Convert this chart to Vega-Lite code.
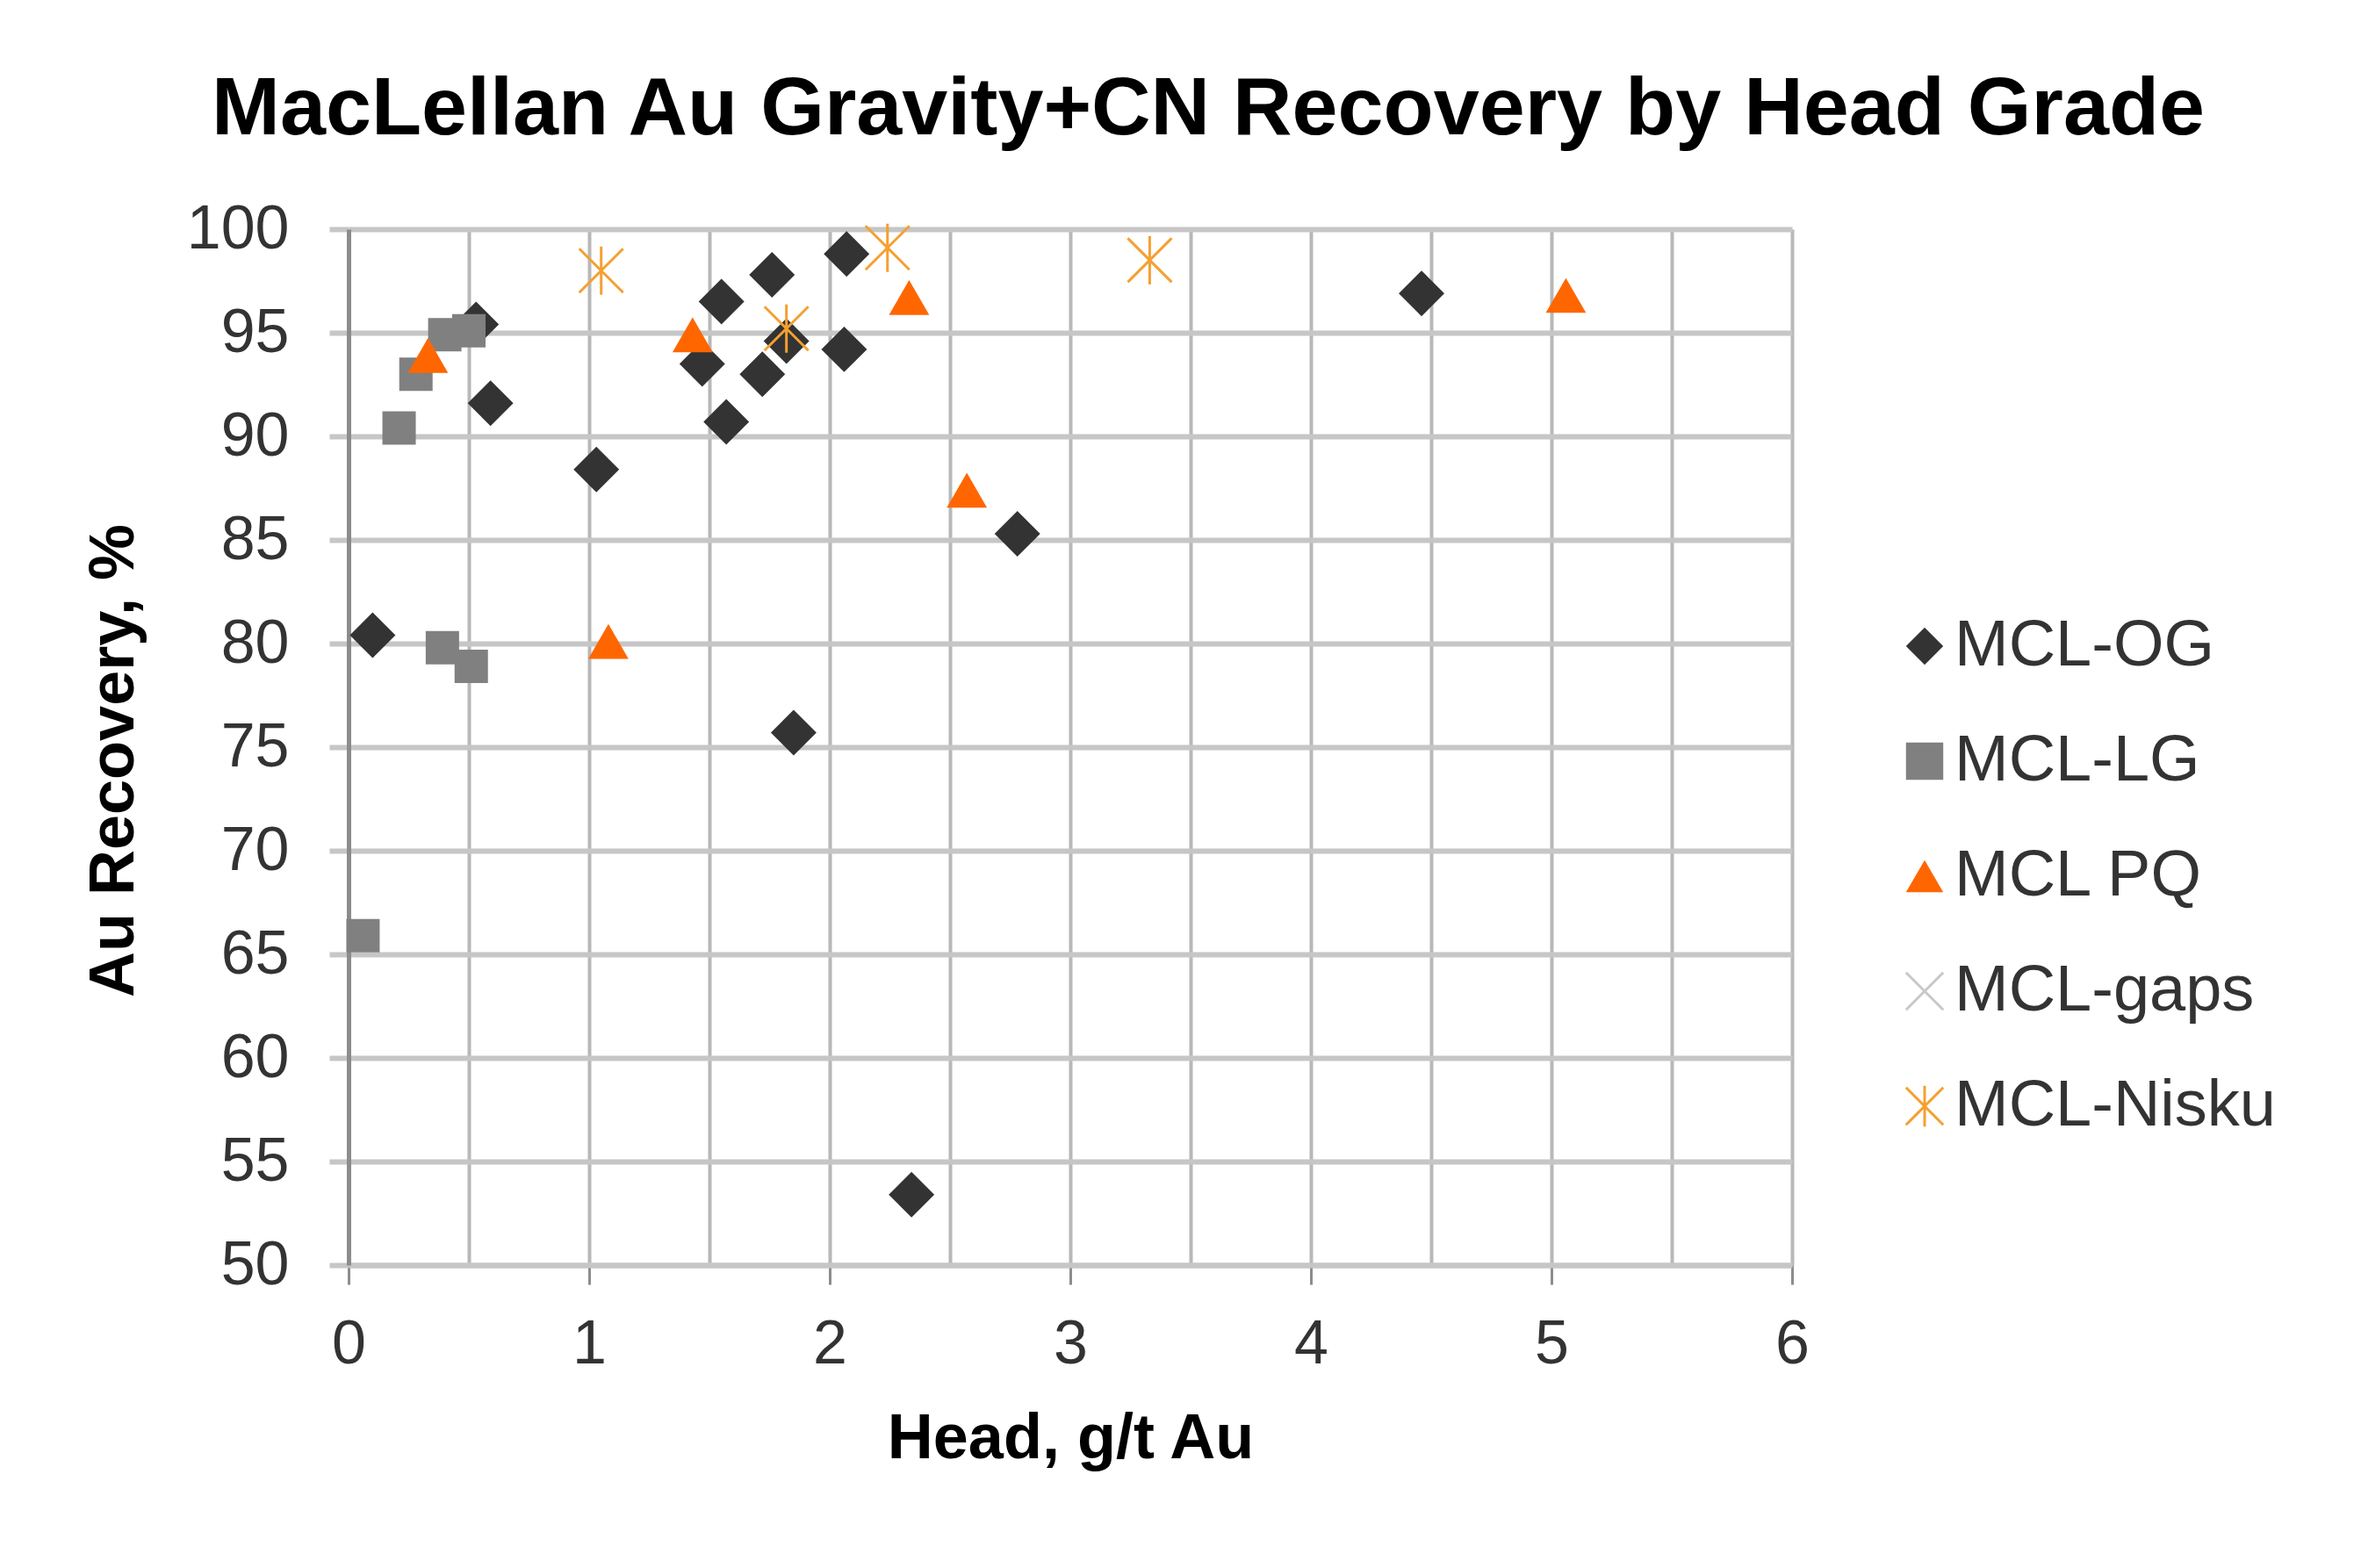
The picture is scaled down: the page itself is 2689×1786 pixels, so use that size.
{
  "$schema": "https://vega.github.io/schema/vega-lite/v6.json",
  "width": 1644,
  "height": 1180,
  "autosize": {"type": "none"},
  "padding": {"left": 397, "top": 261, "right": 648, "bottom": 345},
  "background": "white",
  "title": {
    "text": "MacLellan Au Gravity+CN Recovery by Head Grade",
    "font": "Liberation Sans",
    "fontSize": 93.5,
    "fontWeight": "bold",
    "color": "#000000",
    "anchor": "middle",
    "frame": "group",
    "dx": 157,
    "dy": 92,
    "baseline": "alphabetic",
    "offset": 72
  },
  "config": {
    "view": {"stroke": null},
    "font": "Liberation Sans"
  },
  "data": {
    "values": [
      {"series": "MCL-OG", "head": 0.10, "recovery": 80.4},
      {"series": "MCL-OG", "head": 0.53, "recovery": 95.4},
      {"series": "MCL-OG", "head": 0.59, "recovery": 91.6},
      {"series": "MCL-OG", "head": 1.03, "recovery": 88.4},
      {"series": "MCL-OG", "head": 1.47, "recovery": 93.5},
      {"series": "MCL-OG", "head": 1.55, "recovery": 96.5},
      {"series": "MCL-OG", "head": 1.57, "recovery": 90.7},
      {"series": "MCL-OG", "head": 1.72, "recovery": 93.0},
      {"series": "MCL-OG", "head": 1.76, "recovery": 97.8},
      {"series": "MCL-OG", "head": 1.82, "recovery": 94.6},
      {"series": "MCL-OG", "head": 1.85, "recovery": 75.7},
      {"series": "MCL-OG", "head": 2.06, "recovery": 94.2},
      {"series": "MCL-OG", "head": 2.07, "recovery": 98.8},
      {"series": "MCL-OG", "head": 2.34, "recovery": 53.4},
      {"series": "MCL-OG", "head": 2.78, "recovery": 85.3},
      {"series": "MCL-OG", "head": 4.46, "recovery": 96.9},
      {"series": "MCL-LG", "head": 0.06, "recovery": 65.9},
      {"series": "MCL-LG", "head": 0.21, "recovery": 90.4},
      {"series": "MCL-LG", "head": 0.28, "recovery": 93.0},
      {"series": "MCL-LG", "head": 0.40, "recovery": 94.9},
      {"series": "MCL-LG", "head": 0.50, "recovery": 95.1},
      {"series": "MCL-LG", "head": 0.39, "recovery": 79.8},
      {"series": "MCL-LG", "head": 0.51, "recovery": 78.9},
      {"series": "MCL PQ", "head": 0.33, "recovery": 93.9},
      {"series": "MCL PQ", "head": 1.08, "recovery": 80.1},
      {"series": "MCL PQ", "head": 1.43, "recovery": 94.9},
      {"series": "MCL PQ", "head": 2.33, "recovery": 96.7},
      {"series": "MCL PQ", "head": 2.57, "recovery": 87.4},
      {"series": "MCL PQ", "head": 5.06, "recovery": 96.8},
      {"series": "MCL-Nisku", "head": 1.05, "recovery": 98.0},
      {"series": "MCL-Nisku", "head": 1.82, "recovery": 95.2},
      {"series": "MCL-Nisku", "head": 2.24, "recovery": 99.1},
      {"series": "MCL-Nisku", "head": 3.33, "recovery": 98.5}
    ]
  },
  "mark": {"type": "point", "strokeWidth": 3, "opacity": 1, "clip": false},
  "encoding": {
    "x": {
      "field": "head",
      "type": "quantitative",
      "title": "Head, g/t Au",
      "scale": {"domain": [0, 6], "nice": false, "zero": true},
      "axis": {
        "values": [0, 0.5, 1, 1.5, 2, 2.5, 3, 3.5, 4, 4.5, 5, 5.5, 6],
        "labelExpr": "datum.value % 1 === 0 ? format(datum.value, 'd') : ''",
        "labelFont": "Liberation Sans",
        "labelFontSize": 70,
        "labelColor": "#333333",
        "labelBaseline": "middle",
        "labelPadding": 68,
        "labelFlush": false,
        "labelOverlap": false,
        "tickSize": 22,
        "tickColor": "#8c8c8c",
        "tickWidth": 3,
        "tickOpacity": {"condition": {"test": "datum.value % 1 !== 0", "value": 0}, "value": 1},
        "domainColor": "#c6c6c6",
        "domainWidth": 6,
        "grid": true,
        "gridColor": "#b8b8b8",
        "gridWidth": 4,
        "titleFont": "Liberation Sans",
        "titleFontSize": 72,
        "titleFontWeight": "bold",
        "titleColor": "#000000",
        "titleBaseline": "middle",
        "titleY": 197
      }
    },
    "y": {
      "field": "recovery",
      "type": "quantitative",
      "title": "Au Recovery, %",
      "scale": {"domain": [50, 100], "nice": false, "zero": false},
      "axis": {
        "values": [50, 55, 60, 65, 70, 75, 80, 85, 90, 95, 100],
        "labelFont": "Liberation Sans",
        "labelFontSize": 70,
        "labelColor": "#333333",
        "labelPadding": 46,
        "labelFlush": false,
        "labelOverlap": false,
        "tickSize": 22,
        "tickColor": "#c6c6c6",
        "tickWidth": 6,
        "domainColor": "#8c8c8c",
        "domainWidth": 5,
        "grid": true,
        "gridColor": "#c6c6c6",
        "gridWidth": 6,
        "titleFont": "Liberation Sans",
        "titleFontSize": 72,
        "titleFontWeight": "bold",
        "titleColor": "#000000",
        "titleBaseline": "middle",
        "titleAngle": -90,
        "titleX": -268,
        "titleY": 605
      }
    },
    "fill": {
      "field": "series",
      "type": "nominal",
      "scale": {
        "domain": ["MCL-OG", "MCL-LG", "MCL PQ", "MCL-gaps", "MCL-Nisku"],
        "range": ["#333333", "#808080", "#ff6600", "transparent", "transparent"]
      },
      "legend": {
        "title": null,
        "orient": "none",
        "legendX": 1758,
        "legendY": 438,
        "padding": 0,
        "labelFont": "Liberation Sans",
        "labelFontSize": 74,
        "labelColor": "#333333",
        "labelOffset": -3,
        "labelLimit": 800,
        "rowPadding": 57,
        "symbolSize": 1800,
        "symbolStrokeWidth": 3
      }
    },
    "stroke": {
      "field": "series",
      "type": "nominal",
      "scale": {
        "domain": ["MCL-OG", "MCL-LG", "MCL PQ", "MCL-gaps", "MCL-Nisku"],
        "range": ["transparent", "transparent", "transparent", "#c8c8c8", "#f5a030"]
      }
    },
    "shape": {
      "field": "series",
      "type": "nominal",
      "scale": {
        "domain": ["MCL-OG", "MCL-LG", "MCL PQ", "MCL-gaps", "MCL-Nisku"],
        "range": ["diamond", "square", "triangle-up", "M-1,-1L1,1M-1,1L1,-1", "M-1,-1L1,1M-1,1L1,-1M0,-1.1L0,1.1"]
      }
    },
    "size": {
      "condition": [
        {"test": "datum.series === 'MCL-LG'", "value": 1444},
        {"test": "datum.series === 'MCL PQ'", "value": 2100},
        {"test": "datum.series === 'MCL-Nisku'", "value": 2500}
      ],
      "value": 2700
    }
  }
}
